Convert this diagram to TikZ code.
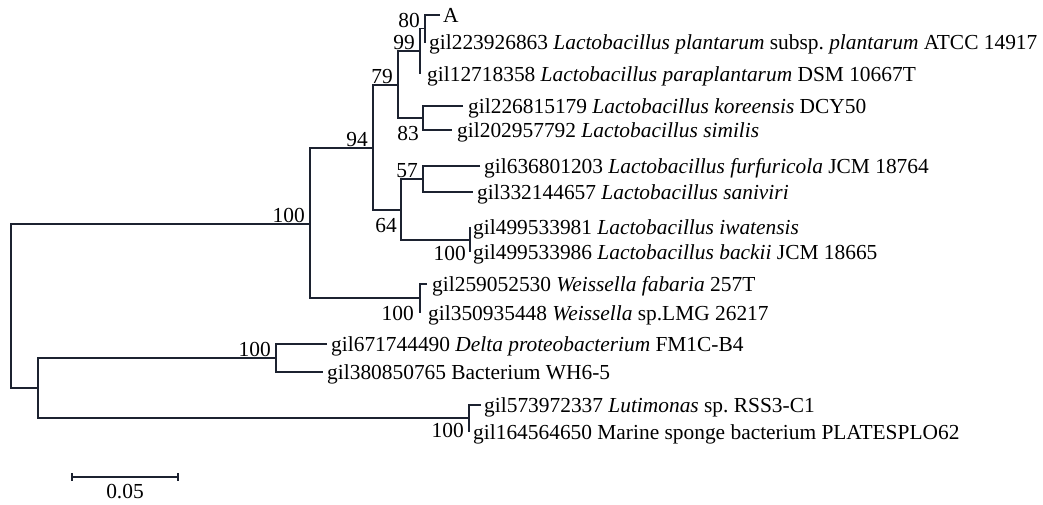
\documentclass[tikz,border=0pt]{standalone}
\usepackage{fontspec}
\setmainfont{Liberation Serif}
\definecolor{linec}{RGB}{28,34,48}
\frenchspacing
\begin{document}
\begin{tikzpicture}[x=1pt,y=-1pt,
  br/.style={draw=linec,line width=1.25pt},
  leaf/.style={anchor=base west,inner sep=0pt,font=\fontsize{21.4}{24}\selectfont},
  bs/.style={anchor=base east,inner sep=0pt,font=\fontsize{21.4}{24}\selectfont},
  sclab/.style={anchor=base,inner sep=0pt,font=\fontsize{21.4}{24}\selectfont}]
\useasboundingbox (0,0) rectangle (1043,504);
% internal nodes
\coordinate (root) at (11,306);
\coordinate (n100b) at (310,224);
\coordinate (nLow) at (38,388);
\coordinate (n94) at (373,148);
\coordinate (nW) at (420,298);
\coordinate (n79) at (398,85);
\coordinate (n64) at (401,210);
\coordinate (n99) at (420,51);
\coordinate (n83) at (423,118);
\coordinate (n80) at (425,28.5);
\coordinate (n57) at (423,179);
\coordinate (n100a) at (470,240);
\coordinate (nD) at (276,358);
\coordinate (nLM) at (469,418);
% leaf tips
\coordinate (tA) at (440,15);
\coordinate (t1) at (426,42);
\coordinate (t2) at (420,74);
\coordinate (t3) at (463,106);
\coordinate (t4) at (452,130);
\coordinate (t5) at (480,166);
\coordinate (t6) at (473,192);
\coordinate (t7) at (470,227);
\coordinate (t8) at (470,252);
\coordinate (t9) at (427,284);
\coordinate (t10) at (420,313);
\coordinate (t11) at (327,344);
\coordinate (t12) at (323,372);
\coordinate (t13) at (481,405);
\coordinate (t14) at (469,432);
% branches
\draw[br] (n100b) -| (root) |- (nLow);
\draw[br] (n94) -| (n100b) |- (nW);
\draw[br] (n79) -| (n94) |- (n64);
\draw[br] (n99) -| (n79) |- (n83);
\draw[br] (n80) -| (n99) |- (t2);
\draw[br] (tA) -| (n80) |- (t1);
\draw[br] (t3) -| (n83) |- (t4);
\draw[br] (n57) -| (n64) |- (n100a);
\draw[br] (t5) -| (n57) |- (t6);
\draw[br] (t7) -| (n100a) |- (t8);
\draw[br] (t9) -| (nW) |- (t10);
\draw[br] (nD) -| (nLow) |- (nLM);
\draw[br] (t11) -| (nD) |- (t12);
\draw[br] (t13) -| (nLM) |- (t14);
% leaf labels
\node[leaf] (lA) at (443,22) {A};
\node[leaf] (l1) at (429,49) {gil223926863 \textit{Lactobacillus plantarum} subsp. \textit{plantarum} ATCC 14917};
\node[leaf] (l2) at (427,81) {gil12718358 \textit{Lactobacillus paraplantarum} DSM 10667T};
\node[leaf] (l3) at (468,113) {gil226815179 \textit{Lactobacillus koreensis} DCY50};
\node[leaf] (l4) at (457,137) {gil202957792 \textit{Lactobacillus similis}};
\node[leaf] (l5) at (484,173) {gil636801203 \textit{Lactobacillus furfuricola} JCM 18764};
\node[leaf] (l6) at (477,199) {gil332144657 \textit{Lactobacillus saniviri}};
\node[leaf] (l7) at (473,234) {gil499533981 \textit{Lactobacillus iwatensis}};
\node[leaf] (l8) at (473,259) {gil499533986 \textit{Lactobacillus backii} JCM 18665};
\node[leaf] (l9) at (432,291) {gil259052530 \textit{Weissella fabaria} 257T};
\node[leaf] (l10) at (428,320) {gil350935448 \textit{Weissella} sp.LMG 26217};
\node[leaf] (l11) at (331,351) {gil671744490 \textit{Delta proteobacterium} FM1C-B4};
\node[leaf] (l12) at (327,379) {gil380850765 Bacterium WH6-5};
\node[leaf] (l13) at (484,412) {gil573972337 \textit{Lutimonas} sp. RSS3-C1};
\node[leaf] (l14) at (473,439) {gil164564650 Marine sponge bacterium PLATESPLO62};
% bootstrap values
\node[bs] (b100b) at (305,222) {100};
\node[bs] (b94) at (368,146) {94};
\node[bs] (b79) at (393,83) {79};
\node[bs] (b99) at (415,49) {99};
\node[bs] (b80) at (420,27) {80};
\node[bs] (b83) at (419,140) {83};
\node[bs] (b57) at (418,177) {57};
\node[bs] (b64) at (397,232) {64};
\node[bs] (b100a) at (466,260) {100};
\node[bs] (bW) at (414,320) {100};
\node[bs] (bD) at (271,356) {100};
\node[bs] (bLM) at (464,437) {100};
% scale bar
\coordinate (sL) at (72,477);
\coordinate (sR) at (178,477);
\draw[br] (sL) -- (sR);
\draw[br] ([yshift=4pt]sL) -- ([yshift=-4pt]sL);
\draw[br] ([yshift=4pt]sR) -- ([yshift=-4pt]sR);
\node[sclab] (sc) at (125,498) {0.05};
\end{tikzpicture}
\end{document}
